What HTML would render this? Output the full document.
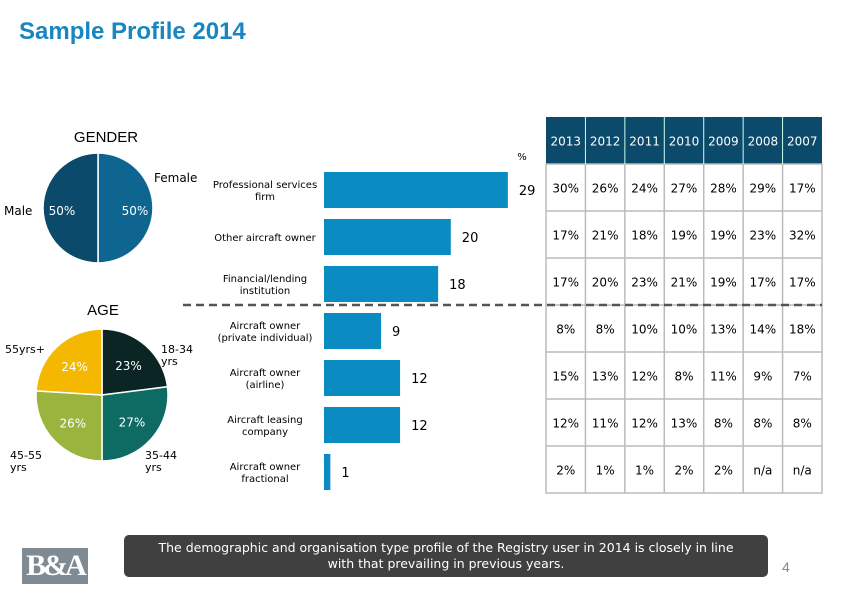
<!DOCTYPE html>
<html><head><meta charset="utf-8"><style>
body{margin:0;width:842px;height:596px;background:#fff;position:relative;overflow:hidden;font-family:"DejaVu Sans","Liberation Sans",sans-serif}
.abs{position:absolute}
</style></head><body>
<div class="abs" style="left:19px;top:18px;font:bold 24px 'Liberation Sans',sans-serif;color:#1a86c0">Sample Profile 2014</div>
<svg class="abs" style="left:0;top:0" width="842" height="596" id="chart"></svg>
<div class="abs" style="left:124px;top:535px;width:644px;height:42px;background:#404040;border-radius:5px;color:#fff;font-size:12.5px;text-align:center;line-height:16px;padding-top:5px;box-sizing:border-box">The demographic and organisation type profile of the Registry user in 2014 is closely in line<br>with that prevailing in previous years.</div>
<div class="abs" style="left:782px;top:559px;font:14px 'Liberation Sans',sans-serif;color:#888">4</div>
<div class="abs" style="left:22px;top:548px;width:66px;height:36px;background:#7f8a93;color:#fff;font:bold 30px 'Liberation Serif',serif;line-height:36px;text-align:center;letter-spacing:-3px">B&amp;A</div>
<script>
const NS='http://www.w3.org/2000/svg';
const svg=document.getElementById('chart');
function el(t,a,p){const e=document.createElementNS(NS,t);for(const k in a)e.setAttribute(k,a[k]);(p||svg).appendChild(e);return e;}
const genderLabels=['Male','Female'];
const genderValues=[50,50];
const ageLabels=['18-34 yrs','35-44 yrs','45-55 yrs','55yrs+'];
const ageValues=[23,27,26,24];
const categories=['Professional services|firm','Other aircraft owner','Financial/lending|institution','Aircraft owner|(private individual)','Aircraft owner|(airline)','Aircraft leasing|company','Aircraft owner|fractional'];
const values2014=[29,20,18,9,12,12,1];
const years=['2013','2012','2011','2010','2009','2008','2007'];
const tableValues=[
['30%','26%','24%','27%','28%','29%','17%'],
['17%','21%','18%','19%','19%','23%','32%'],
['17%','20%','23%','21%','19%','17%','17%'],
['8%','8%','10%','10%','13%','14%','18%'],
['15%','13%','12%','8%','11%','9%','7%'],
['12%','11%','12%','13%','8%','8%','8%'],
['2%','1%','1%','2%','2%','n/a','n/a']];

function txt(x,y,s,st,name){const t=el('text',Object.assign({x:x,y:y},st));t.textContent=s;return t;}
function pie(cx,cy,r,vals,cols,name){
  const tot=vals.reduce((a,b)=>a+b,0);let a0=-Math.PI/2;const mids=[];
  vals.forEach((v,i)=>{const a1=a0+v/tot*2*Math.PI;
    const x0=cx+r*Math.cos(a0),y0=cy+r*Math.sin(a0),x1=cx+r*Math.cos(a1),y1=cy+r*Math.sin(a1);
    const p=el('path',{d:`M${cx},${cy}L${x0},${y0}A${r},${r} 0 ${a1-a0>Math.PI?1:0} 1 ${x1},${y1}Z`,fill:cols[i],stroke:'#fff','stroke-width':1.5});
    
    
    mids.push((a0+a1)/2);a0=a1;});
  return mids;
}
const B={'font-weight':'bold'};
// gender
txt(106,142,'GENDER',{'font-size':15,'text-anchor':'middle','font-family':'Liberation Sans',fill:'#000'},'gender-title');
pie(98,208,55,[genderValues[1],genderValues[0]],['#0e6690','#0b4a6a'],'gender-pie');
txt(135,215,genderValues[1]+'%',{'font-size':12,'text-anchor':'middle',fill:'#fff'},'female-pct');
txt(62,215,genderValues[0]+'%',{'font-size':12,'text-anchor':'middle',fill:'#fff'},'male-pct');
txt(4,215,genderLabels[0],{'font-size':12,fill:'#000'},'male-label');
txt(154,182,genderLabels[1],{'font-size':12,fill:'#000'},'female-label');
// age
txt(103,315,'AGE',{'font-size':15,'text-anchor':'middle','font-family':'Liberation Sans',fill:'#000'},'age-title');
const mids=pie(102,395,66,ageValues,['#0b2424','#0e6b63','#9ab43e','#f5b800'],'age-pie');
mids.forEach((m,i)=>{txt(102+40*Math.cos(m),395+40*Math.sin(m)+5,ageValues[i]+'%',{'font-size':12,'text-anchor':'middle',fill:'#fff'},'age-pct-'+i);});
txt(161,353,'18-34',{'font-size':11,fill:'#000'},'age-label-18-34');txt(161,365,'yrs',{'font-size':11,fill:'#000'},'age-label-18-34b');
txt(145,459,'35-44',{'font-size':11,fill:'#000'},'age-label-35-44');txt(145,471,'yrs',{'font-size':11,fill:'#000'},'age-label-35-44b');
txt(10,459,'45-55',{'font-size':11,fill:'#000'},'age-label-45-55');txt(10,471,'yrs',{'font-size':11,fill:'#000'},'age-label-45-55b');
txt(5,353,'55yrs+',{'font-size':11,fill:'#000'},'age-label-55');
// bars
const x0=324,sx=6.34,top0=172,pitch=47,bh=36;
txt(522,160,'%',{'font-size':10,fill:'#000','text-anchor':'middle'},'percent-label');
categories.forEach((c,i)=>{
  const y=top0+i*pitch,w=values2014[i]*sx;
  const r=el('rect',{x:x0,y:y,width:w,height:bh,fill:'#0a8bc2'});
  
  
  txt(x0+w+11,y+bh/2+5,String(values2014[i]),{'font-size':13,fill:'#000'},'bar-value-'+i);
  const parts=c.split('|');
  parts.forEach((p,j)=>txt(265,y+bh/2+4+(j-(parts.length-1)/2)*12,p,{'font-size':10,'text-anchor':'middle',fill:'#000'},'bar-label-'+i+'-'+j));
});
// table
const tx=546,tw=276,cw=tw/7,hy=117,hh=47,rh=47;
el('rect',{x:tx,y:hy,width:tw,height:hh,fill:'#0b4a6a'});
el('rect',{x:tx,y:hy+hh,width:tw,height:rh*7,fill:'#fff',stroke:'#bbb','stroke-width':1.5});
years.forEach((yr,j)=>{txt(tx+cw*j+cw/2,hy+hh/2+5,yr,{'font-size':12,'text-anchor':'middle',fill:'#fff'},'year-header-'+yr);
  if(j>0){el('line',{x1:tx+cw*j,y1:hy,x2:tx+cw*j,y2:hy+hh,stroke:'#cfe','stroke-width':1});el('line',{x1:tx+cw*j,y1:hy+hh,x2:tx+cw*j,y2:hy+hh+rh*7,stroke:'#bbb','stroke-width':1.5});}});
tableValues.forEach((row,i)=>{const y=hy+hh+rh*i;
  if(i>0)el('line',{x1:tx,y1:y,x2:tx+tw,y2:y,stroke:'#bbb','stroke-width':1.5});
  row.forEach((v,j)=>txt(tx+cw*j+cw/2,y+rh/2+5,v,{'font-size':12,'text-anchor':'middle',fill:'#000'},'cell-'+i+'-'+j));});
// dashed divider
el('line',{x1:183,y1:305,x2:822,y2:305,stroke:'#555','stroke-width':2.5,'stroke-dasharray':'8,5'});
</script>
</body></html>
